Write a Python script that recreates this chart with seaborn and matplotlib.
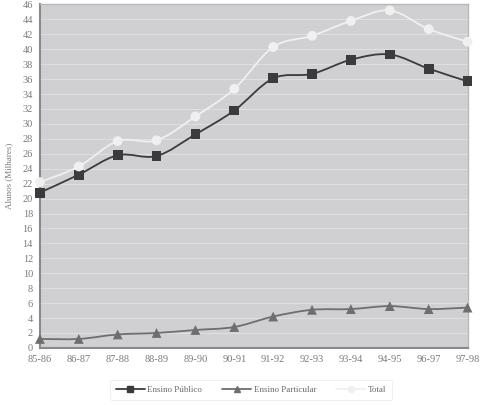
import numpy as np
import matplotlib

matplotlib.use("Agg")
import matplotlib.pyplot as plt  # noqa: E402
import pandas as pd  # noqa: E402
import seaborn as sns  # noqa: E402
from matplotlib.path import Path  # noqa: E402
from matplotlib.patches import PathPatch  # noqa: E402

years = ["85-86", "86-87", "87-88", "88-89", "89-90", "90-91",
         "91-92", "92-93", "93-94", "94-95", "96-97", "97-98"]
publico = [20.8, 23.2, 25.8, 25.7, 28.6, 31.8, 36.1, 36.7, 38.6, 39.3, 37.4, 35.7]
particular = [1.2, 1.2, 1.8, 2.0, 2.4, 2.8, 4.2, 5.1, 5.2, 5.6, 5.2, 5.4]
total = [22.2, 24.3, 27.7, 27.8, 31.0, 34.7, 40.3, 41.8, 43.8, 45.2, 42.7, 41.0]

series = {
    "Ensino Público": publico,
    "Ensino Particular": particular,
    "Total": total,
}
df = pd.DataFrame(
    [(i, y, name, v) for name, vals in series.items()
     for i, (y, v) in enumerate(zip(years, vals))],
    columns=["pos", "ano", "serie", "valor"],
)

colors = {"Ensino Público": "#3b3b3d", "Ensino Particular": "#6e6e70", "Total": "#f0f0f0"}
markers = {"Ensino Público": "s", "Ensino Particular": "^", "Total": "o"}

sns.set_style("white")
plt.rcParams["font.family"] = ["Liberation Serif", "DejaVu Serif"]

fig = plt.figure(figsize=(4.81, 4.05), dpi=100)
ax = fig.add_axes([0.083, 0.141, 0.889, 0.848])
ax.set_facecolor("#d0d0d2")


def smooth_path(x, y):
    # Catmull-Rom style smoothing, like a spreadsheet "smoothed line"
    x = np.asarray(x, float)
    y = np.asarray(y, float)
    verts = [(x[0], y[0])]
    codes = [Path.MOVETO]
    n = len(x)
    for i in range(n - 1):
        x0, y0 = (x[i - 1], y[i - 1]) if i > 0 else (x[i], y[i])
        x3, y3 = (x[i + 2], y[i + 2]) if i + 2 < n else (x[i + 1], y[i + 1])
        c1 = (x[i] + (x[i + 1] - x0) / 6, y[i] + (y[i + 1] - y0) / 6)
        c2 = (x[i + 1] - (x3 - x[i]) / 6, y[i + 1] - (y3 - y[i]) / 6)
        verts += [c1, c2, (x[i + 1], y[i + 1])]
        codes += [Path.CURVE4] * 3
    return Path(verts, codes)


for name in series:
    sub = df[df["serie"] == name]
    ax.add_patch(PathPatch(smooth_path(sub["pos"], sub["valor"]), facecolor="none",
                           edgecolor=colors[name], lw=1.3, zorder=3))

sns.scatterplot(data=df, x="pos", y="valor", hue="serie", style="serie",
                palette=colors, markers=markers, s=50, edgecolor="none",
                ax=ax, legend=False, zorder=4, clip_on=False)

ax.set_xlim(0, len(years) - 1)
ax.set_ylim(0, 46)
ax.set_xticks(range(len(years)))
ax.set_xticklabels(years)
ax.set_yticks(range(0, 47, 2))
ax.grid(axis="y", color="#dfdfe1", lw=0.8)
ax.set_axisbelow(True)
ax.tick_params(axis="both", length=0, labelsize=7.5, labelcolor="#7a7a7a", pad=5)
ax.set_xlabel("")
ax.set_ylabel("Alunos (Milhares)", fontsize=6.5, color="#7a7a7a", labelpad=7)

for side in ["left", "bottom"]:
    ax.spines[side].set_color("#8a8a8c")
    ax.spines[side].set_linewidth(1.5)
for side in ["top", "right"]:
    ax.spines[side].set_color("#b8b8ba")
    ax.spines[side].set_linewidth(1.0)

handles = [
    plt.Line2D([], [], color=colors[n], marker=markers[n], markersize=4.5, lw=1.3)
    for n in series
]
leg = fig.legend(handles, list(series.keys()), loc="center", ncol=3,
                 bbox_to_anchor=(0.522, 0.037), fontsize=6.5, frameon=True,
                 handlelength=3.2, handletextpad=0.3, columnspacing=2.2,
                 borderpad=0.6)
leg.get_frame().set_edgecolor("#ececec")
leg.get_frame().set_linewidth(0.8)
for t in leg.get_texts():
    t.set_color("#6a6a6a")

fig.savefig("out.png", dpi=100)
